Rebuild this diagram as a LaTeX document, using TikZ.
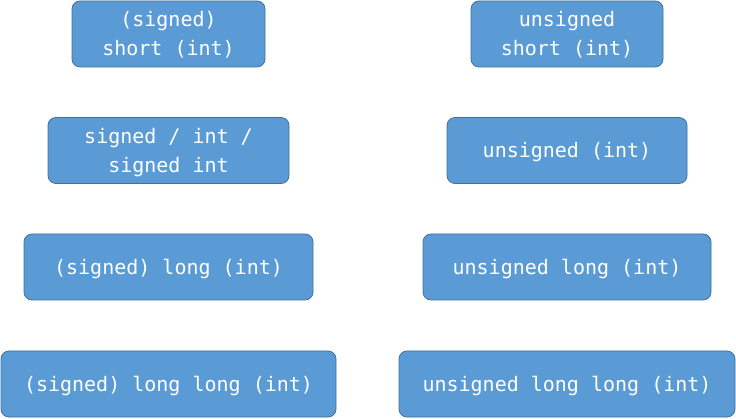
\documentclass[tikz,border=0pt]{standalone}
\usepackage{fontspec}
\setmonofont{DejaVu Sans Mono}
\usepackage{tikz}
\usetikzlibrary{positioning}

\definecolor{boxfill}{HTML}{5B9BD5}
\definecolor{boxline}{HTML}{41719C}

\tikzset{
  typebox/.style={draw=boxline, fill=boxfill, rounded corners=8pt, line width=0.8pt,
    text=white, font=\ttfamily\fontsize{20}{29}\selectfont, align=center,
    minimum height=66pt, inner sep=0pt, text depth=1pt}
}

\begin{document}
\begin{tikzpicture}[x=1pt,y=-1pt]
  \useasboundingbox (0,0) rectangle (736,419);

  % signed types
  \node[typebox, minimum width=193pt] (Short) at (168.5,34) {(signed)\\short (int)};
  \node[typebox, minimum width=241pt] (Int) at (168.5,150.5) {signed / int /\\signed int};
  \node[typebox, minimum width=289pt] (Long) at (168.5,267) {(signed) long (int)};
  \node[typebox, minimum width=335pt] (LongLong) at (168.5,384) {(signed) long long (int)};

  % unsigned types
  \node[typebox, minimum width=192pt] (UShort) at (567,34) {unsigned\\short (int)};
  \node[typebox, minimum width=240pt] (UInt) at (567,150.5) {unsigned (int)};
  \node[typebox, minimum width=288pt] (ULong) at (567,267) {unsigned long (int)};
  \node[typebox, minimum width=336pt] (ULongLong) at (567,384) {unsigned long long (int)};
\end{tikzpicture}
\end{document}
